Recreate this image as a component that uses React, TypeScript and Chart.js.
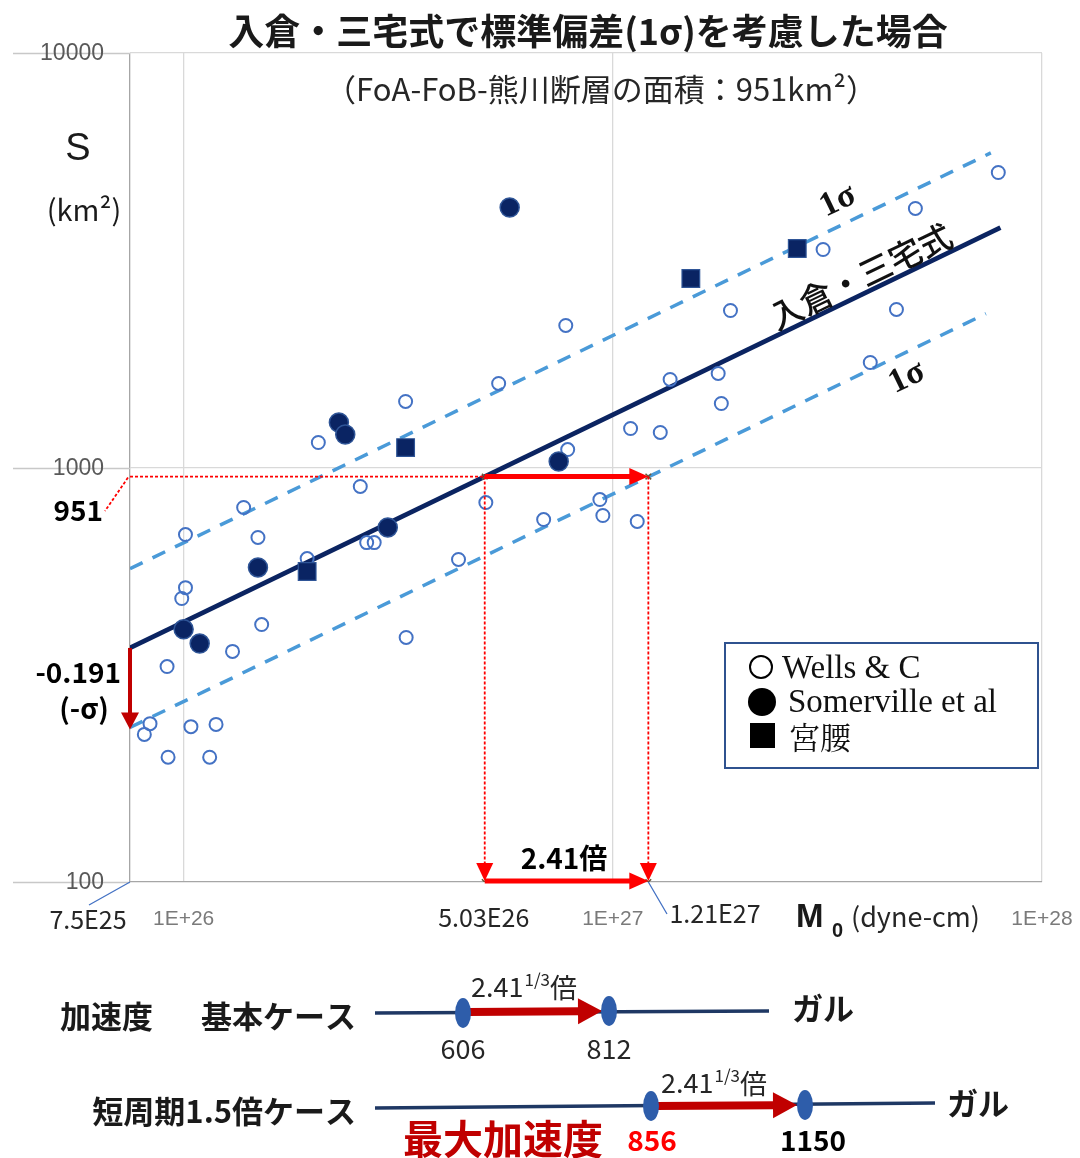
import React, { useEffect, useRef } from 'react';
import { Chart, registerables } from 'chart.js';

Chart.register(...registerables);

// ---------- data ----------
const wellsX = [1.01e26, 9.9e25, 1.52e26, 1.3e26, 9.15e25, 8.35e25, 8.1e25, 1.04e26, 1.19e26, 9.2e25, 1.15e26, 3.3e26, 2.06e26, 3.29e26, 5.42e26, 7.77e26, 2.58e26, 1.38e26, 1.01e26, 1.49e26, 1.94e26, 2.67e26, 2.78e26, 5.06e26, 4.37e26, 6.9e26, 9.33e26, 9.48e26, 1.14e27, 7.85e26, 1.1e27, 1.29e27, 1.36e27, 1.76e27, 1.79e27, 1.88e27, 3.98e27, 4.58e27, 3.09e27, 5.07e27, 7.91e27];
const wellsY = [513, 483, 418, 360, 331, 241, 227, 237, 240, 200, 200, 389, 1149, 1443, 1595, 2201, 900, 801, 689, 678, 603, 659, 659, 823, 600, 749, 837, 766, 741, 1105, 1242, 1215, 1631, 1686, 1427, 2392, 1792, 2406, 3357, 4216, 5149];

const somervilleX = [1.0e26, 1.09e26, 1.49e26, 2.3e26, 2.38e26, 2.99e26, 5.75e26, 7.48e26];
const somervilleY = [407, 376, 574, 1284, 1201, 717, 4240, 1034];

const miyakoshiX = [1.94e26, 3.29e26, 1.52e27, 2.69e27];
const miyakoshiY = [561, 1117, 2858, 3376];

const irikuraX = [7.5e25, 8.0e27];
const irikuraY = [367, 3790];
const upperSigmaX = [7.5e25, 7.6e27];
const upperSigmaY = [570, 5740];
const lowerSigmaX = [7.5e25, 7.4e27];
const lowerSigmaY = [236, 2350];

const faultArea = 951;
const m0Base = 5.03e26;
const m0Sigma = 1.21e27;

const xMin = 7.5e25;
const xMax = 1e28;
const yMin = 100;
const yMax = 10000;
const xTickValues = [7.5e25, 1e26, 1e27, 1e28];
const xTickLabels = ['', '1E+26', '1E+27', '1E+28'];
const yTickValues = [100, 1000, 10000];
const yTickLabels = ['100', '1000', '10000'];

const accelBase = ['606', '812'];
const accelShort = ['856', '1150'];

// ---------- helpers ----------
const JP = '"Noto Sans CJK JP", "Noto Sans", sans-serif';
const NUM = '"Liberation Sans", Arial, sans-serif';
const SERIF = '"Liberation Serif", "DejaVu Serif", serif';

function arrow(ctx: CanvasRenderingContext2D, x1: number, y1: number, x2: number, y2: number, lw: number, hl: number, hw: number, color: string) {
  const a = Math.atan2(y2 - y1, x2 - x1);
  const bx = x2 - hl * Math.cos(a);
  const by = y2 - hl * Math.sin(a);
  ctx.save();
  ctx.setLineDash([]);
  ctx.strokeStyle = color;
  ctx.fillStyle = color;
  ctx.lineWidth = lw;
  const len = Math.hypot(x2 - x1, y2 - y1);
  if (len > hl) {
    ctx.beginPath();
    ctx.moveTo(x1, y1);
    ctx.lineTo(bx + Math.cos(a), by + Math.sin(a));
    ctx.stroke();
  }
  ctx.beginPath();
  ctx.moveTo(x2, y2);
  ctx.lineTo(bx + (hw / 2) * Math.sin(a), by - (hw / 2) * Math.cos(a));
  ctx.lineTo(bx - (hw / 2) * Math.sin(a), by + (hw / 2) * Math.cos(a));
  ctx.closePath();
  ctx.fill();
  ctx.restore();
}

function txt(ctx: CanvasRenderingContext2D, s: string, x: number, y: number, font: string, color: string, align: CanvasTextAlign = 'left', baseline: CanvasTextBaseline = 'middle') {
  ctx.save();
  ctx.font = font;
  ctx.fillStyle = color;
  ctx.textAlign = align;
  ctx.textBaseline = baseline;
  ctx.fillText(s, x, y);
  ctx.restore();
}

function rotText(ctx: CanvasRenderingContext2D, s: string, x: number, y: number, angle: number, font: string, color: string) {
  ctx.save();
  ctx.translate(x, y);
  ctx.rotate(angle);
  ctx.font = font;
  ctx.fillStyle = color;
  ctx.textAlign = 'center';
  ctx.textBaseline = 'middle';
  ctx.fillText(s, 0, 0);
  ctx.restore();
}

function ellipse(ctx: CanvasRenderingContext2D, x: number, y: number) {
  ctx.save();
  ctx.fillStyle = '#2e5daa';
  ctx.beginPath();
  ctx.ellipse(x, y, 8, 15, 0, 0, Math.PI * 2);
  ctx.fill();
  ctx.restore();
}

function powerLabel(ctx: CanvasRenderingContext2D, x: number, baseline: number) {
  ctx.save();
  ctx.fillStyle = '#262626';
  ctx.textBaseline = 'alphabetic';
  ctx.textAlign = 'left';
  ctx.font = `27px ${JP}`;
  ctx.fillText('2.41', x, baseline);
  let cx = x + ctx.measureText('2.41').width + 1;
  ctx.font = `17px ${JP}`;
  ctx.fillText('1/3', cx, baseline - 11);
  cx += ctx.measureText('1/3').width;
  ctx.font = `27px ${JP}`;
  ctx.fillText('倍', cx, baseline + 1);
  ctx.restore();
}

const overlay = {
  id: 'overlay',
  afterDraw(chart: any) {
    const ctx: CanvasRenderingContext2D = chart.ctx;
    const xs = chart.scales.x;
    const ys = chart.scales.y;
    const area = chart.chartArea;
    const xL = area.left;
    const yBot = area.bottom;

    // extended horizontal grid lines to the left, and y tick labels
    ctx.save();
    ctx.strokeStyle = '#c8c8c8';
    ctx.lineWidth = 1.3;
    yTickValues.forEach((v) => {
      const py = Math.round(ys.getPixelForValue(v)) + 0.5;
      ctx.beginPath();
      ctx.moveTo(13, py);
      ctx.lineTo(xL, py);
      ctx.stroke();
    });
    ctx.restore();
    yTickValues.forEach((v, i) => {
      txt(ctx, yTickLabels[i], 104, ys.getPixelForValue(v) + 1, `23px ${NUM}`, '#595959', 'right');
    });
    xTickValues.forEach((v, i) => {
      if (xTickLabels[i]) txt(ctx, xTickLabels[i], xs.getPixelForValue(v), 919, `21px ${NUM}`, '#7a7a7a', 'center');
    });

    // red annotations
    const yA = ys.getPixelForValue(faultArea);
    const xB = xs.getPixelForValue(m0Base);
    const xS = xs.getPixelForValue(m0Sigma);
    ctx.save();
    ctx.strokeStyle = '#ff0000';
    ctx.lineWidth = 1.8;
    ctx.setLineDash([3, 2]);
    ctx.beginPath();
    ctx.moveTo(xL, yA);
    ctx.lineTo(xB, yA);
    ctx.moveTo(xL - 2, yA + 1);
    ctx.lineTo(105, 511);
    ctx.moveTo(xB, yA);
    ctx.lineTo(xB, yBot - 16);
    ctx.moveTo(xS, yA);
    ctx.lineTo(xS, yBot - 16);
    ctx.stroke();
    ctx.restore();
    arrow(ctx, xB, yBot - 20, xB, yBot - 1, 1, 18, 17, '#ff0000');
    arrow(ctx, xS, yBot - 20, xS, yBot - 1, 1, 18, 17, '#ff0000');
    arrow(ctx, xB, yA, xS, yA, 5, 19, 17, '#ff0000');
    arrow(ctx, xB, yBot - 1, xS, yBot - 1, 5, 19, 17, '#ff0000');
    // -sigma arrow on y axis
    arrow(ctx, xL, ys.getPixelForValue(irikuraY[0]), xL, ys.getPixelForValue(lowerSigmaY[0]) + 2, 4, 17, 18, '#c00000');

    // blue leader lines
    ctx.save();
    ctx.strokeStyle = '#4472c4';
    ctx.lineWidth = 1.3;
    ctx.beginPath();
    ctx.moveTo(xL, yBot);
    ctx.lineTo(89, 905);
    ctx.moveTo(xS, yBot);
    ctx.lineTo(667, 914);
    ctx.stroke();
    ctx.restore();

    // titles
    txt(ctx, '入倉・三宅式で標準偏差(1σ)を考慮した場合', 588, 31, `bold 36px ${JP}`, '#1a1a1a', 'center');
    txt(ctx, '（FoA-FoB-熊川断層の面積：951km²）', 601, 89, `31px ${JP}`, '#262626', 'center');
    txt(ctx, 'S', 78, 150, `38px ${NUM}`, '#1a1a1a', 'center');
    txt(ctx, '(km²)', 84, 210, `29px ${JP}`, '#1a1a1a', 'center');

    // axis labels / values
    txt(ctx, '951', 103, 510, `bold 28px ${JP}`, '#000', 'right');
    txt(ctx, '-0.191', 121, 672, `bold 28px ${JP}`, '#000', 'right');
    txt(ctx, '(-σ)', 84, 708, `bold 28px ${JP}`, '#000', 'center');
    txt(ctx, '2.41倍', 564, 858, `bold 28px ${JP}`, '#000', 'center');
    txt(ctx, '7.5E25', 88, 919, `25px ${JP}`, '#262626', 'center');
    txt(ctx, '5.03E26', xB - 1, 917, `25px ${JP}`, '#262626', 'center');
    txt(ctx, '1.21E27', 715, 913, `25px ${JP}`, '#262626', 'center');
    txt(ctx, 'M', 796, 927, `bold 33px ${NUM}`, '#1a1a1a', 'left', 'alphabetic');
    txt(ctx, '0', 832, 937, `bold 20px ${NUM}`, '#1a1a1a', 'left', 'alphabetic');
    txt(ctx, '(dyne-cm)', 851, 917, `27px ${JP}`, '#262626', 'left');

    // rotated line labels
    const p1x = xs.getPixelForValue(irikuraX[0]);
    const p1y = ys.getPixelForValue(irikuraY[0]);
    const p2x = xs.getPixelForValue(irikuraX[1]);
    const p2y = ys.getPixelForValue(irikuraY[1]);
    const ang = Math.atan2(p2y - p1y, p2x - p1x);
    const nx = Math.sin(ang);
    const ny = -Math.cos(ang);
    const onLine = (xv0: number, yv0: number, px: number) => {
      const ax = xs.getPixelForValue(xv0);
      const ay = ys.getPixelForValue(yv0);
      return ay + (px - ax) * Math.tan(ang);
    };
    {
      const px = 868;
      const py = onLine(irikuraX[0], irikuraY[0], px);
      rotText(ctx, '入倉・三宅式', px + nx * 17, py + ny * 17, ang, `500 33px ${JP}`, '#111');
    }
    {
      const px = 848;
      const py = onLine(upperSigmaX[0], upperSigmaY[0], px);
      rotText(ctx, '1σ', px + nx * 23, py + ny * 23, ang, `bold 34px ${SERIF}`, '#111');
    }
    {
      const px = 897;
      const py = onLine(lowerSigmaX[0], lowerSigmaY[0], px);
      rotText(ctx, '1σ', px - nx * 23, py - ny * 23, ang, `bold 34px ${SERIF}`, '#111');
    }

    // legend
    ctx.save();
    ctx.fillStyle = '#fff';
    ctx.fillRect(725, 643, 313, 125);
    ctx.strokeStyle = '#2f528f';
    ctx.lineWidth = 2;
    ctx.strokeRect(725, 643, 313, 125);
    ctx.strokeStyle = '#000';
    ctx.fillStyle = '#000';
    ctx.lineWidth = 2;
    ctx.beginPath();
    ctx.arc(761, 667, 11, 0, Math.PI * 2);
    ctx.stroke();
    ctx.beginPath();
    ctx.arc(762, 702, 14, 0, Math.PI * 2);
    ctx.fill();
    ctx.fillRect(750, 723, 25, 25);
    ctx.restore();
    txt(ctx, 'Wells & C', 782, 678, `33px ${SERIF}`, '#111', 'left', 'alphabetic');
    txt(ctx, 'Somerville et al', 788, 712, `33px ${SERIF}`, '#111', 'left', 'alphabetic');
    txt(ctx, '宮腰', 789, 737, `31px "Noto Serif CJK JP", ${JP}`, '#111', 'left');

    // ---------- acceleration diagram ----------
    txt(ctx, '加速度', 60, 1016, `bold 31px ${JP}`, '#1a1a1a', 'left');
    txt(ctx, '基本ケース', 356, 1016, `bold 31px ${JP}`, '#1a1a1a', 'right');
    txt(ctx, '短周期1.5倍ケース', 356, 1111, `bold 31px ${JP}`, '#1a1a1a', 'right');

    ctx.save();
    ctx.strokeStyle = '#1f3864';
    ctx.lineWidth = 3.5;
    ctx.beginPath();
    ctx.moveTo(375, 1013);
    ctx.lineTo(769, 1011);
    ctx.moveTo(375, 1108);
    ctx.lineTo(935, 1103);
    ctx.stroke();
    ctx.restore();
    arrow(ctx, 468, 1012, 602, 1011, 8, 24, 26, '#c00000');
    arrow(ctx, 656, 1106, 797, 1105, 8, 24, 26, '#c00000');
    ellipse(ctx, 463, 1013);
    ellipse(ctx, 609, 1011);
    ellipse(ctx, 651, 1106);
    ellipse(ctx, 805, 1105);

    powerLabel(ctx, 471, 997);
    powerLabel(ctx, 661, 1093);

    txt(ctx, accelBase[0], 463, 1049, `27px ${JP}`, '#262626', 'center');
    txt(ctx, accelBase[1], 609, 1049, `27px ${JP}`, '#262626', 'center');
    txt(ctx, 'ガル', 792, 1008, `bold 31px ${JP}`, '#1a1a1a', 'left');
    txt(ctx, 'ガル', 947, 1103, `bold 31px ${JP}`, '#1a1a1a', 'left');

    txt(ctx, '最大加速度', 403, 1139, `bold 40px ${JP}`, '#c00000', 'left');
    txt(ctx, accelShort[0], 652, 1140, `bold 28px ${JP}`, '#ff0000', 'center');
    txt(ctx, accelShort[1], 813, 1140, `bold 28px ${JP}`, '#000', 'center');
  },
};

export default function App() {
  const ref = useRef<HTMLCanvasElement | null>(null);

  useEffect(() => {
    if (!ref.current) return;
    const pts = (xs: number[], ys: number[]) => xs.map((x, i) => ({ x, y: ys[i] }));
    const chart = new Chart(ref.current, {
      type: 'scatter',
      data: {
        datasets: [
          {
            label: '宮腰',
            data: pts(miyakoshiX, miyakoshiY),
            pointStyle: 'rect',
            pointRadius: 12.5,
            backgroundColor: '#0a2463',
            borderColor: '#2f5597',
            borderWidth: 1.2,
            order: 1,
          },
          {
            label: 'Somerville et al',
            data: pts(somervilleX, somervilleY),
            pointStyle: 'circle',
            pointRadius: 9.5,
            backgroundColor: '#0a2463',
            borderColor: '#2f5597',
            borderWidth: 1.5,
            order: 2,
          },
          {
            label: 'Wells & C',
            data: pts(wellsX, wellsY),
            pointStyle: 'circle',
            pointRadius: 6.5,
            backgroundColor: 'rgba(255,255,255,0)',
            borderColor: '#4472c4',
            borderWidth: 2,
            order: 3,
          },
          {
            label: '入倉・三宅式',
            data: pts(irikuraX, irikuraY),
            showLine: true,
            pointRadius: 0,
            borderColor: '#0b2461',
            borderWidth: 4.8,
            order: 4,
          },
          {
            label: '+1σ',
            data: pts(upperSigmaX, upperSigmaY),
            showLine: true,
            pointRadius: 0,
            borderColor: '#4a9ad8',
            borderWidth: 3.5,
            borderDash: [14, 11],
            order: 5,
          },
          {
            label: '-1σ',
            data: pts(lowerSigmaX, lowerSigmaY),
            showLine: true,
            pointRadius: 0,
            borderColor: '#4a9ad8',
            borderWidth: 3.5,
            borderDash: [14, 11],
            order: 5,
          },
          {
            label: 'marks',
            data: [
              { x: m0Base, y: faultArea },
              { x: m0Sigma, y: faultArea },
              { x: m0Base, y: yMin },
              { x: m0Sigma, y: yMin },
            ],
            pointStyle: 'crossRot',
            pointRadius: 4,
            borderColor: '#6b5a3a',
            borderWidth: 1.5,
            order: 0,
          },
        ],
      },
      options: {
        animation: false,
        responsive: false,
        maintainAspectRatio: false,
        devicePixelRatio: 1,
        layout: { padding: { left: 130, right: 38, top: 53, bottom: 276 } },
        plugins: {
          legend: { display: false },
          tooltip: { enabled: false },
          title: { display: false },
        },
        scales: {
          x: {
            type: 'logarithmic',
            min: xMin,
            max: xMax,
            afterBuildTicks: (s: any) => {
              s.ticks = xTickValues.map((v) => ({ value: v }));
            },
            afterFit: (s: any) => {
              s.height = 0;
            },
            ticks: { display: false },
            border: { display: false },
            grid: {
              drawTicks: false,
              lineWidth: 1.3,
              color: (c: any) => (c.tick && c.tick.value < 9e25 ? '#a6a6a6' : '#d9d9d9'),
            },
          },
          y: {
            type: 'logarithmic',
            min: yMin,
            max: yMax,
            afterBuildTicks: (s: any) => {
              s.ticks = yTickValues.map((v) => ({ value: v }));
            },
            afterFit: (s: any) => {
              s.width = 0;
            },
            ticks: { display: false },
            border: { display: false },
            grid: {
              drawTicks: false,
              lineWidth: 1.3,
              color: (c: any) => (c.tick && c.tick.value < 200 ? '#a6a6a6' : '#d9d9d9'),
            },
          },
        },
      },
      plugins: [overlay],
    } as any);
    return () => chart.destroy();
  }, []);

  return (
    <div style={{ position: 'absolute', left: 0, top: 0, width: 1080, height: 1158, background: '#fff' }}>
      <canvas ref={ref} width={1080} height={1158} style={{ display: 'block', width: 1080, height: 1158 }} />
    </div>
  );
}
